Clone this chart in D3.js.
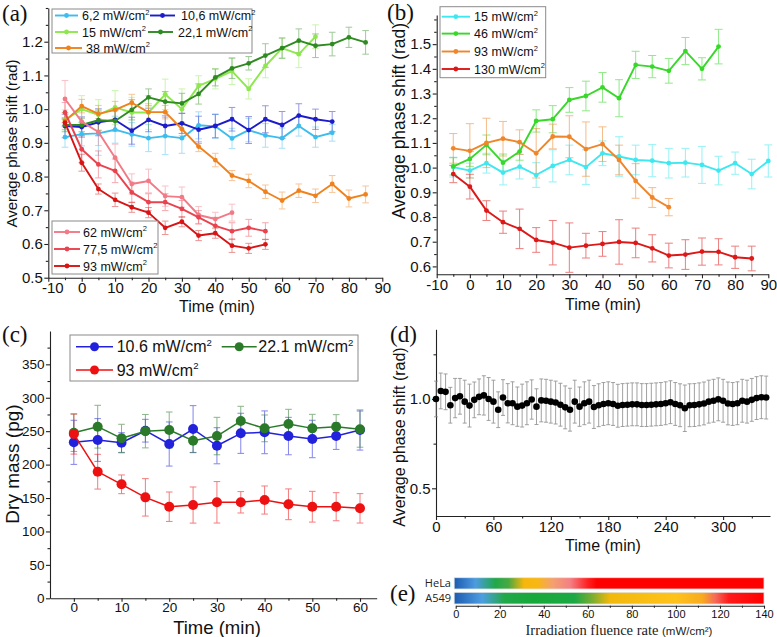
<!DOCTYPE html>
<html><head><meta charset="utf-8">
<script src="https://cdn.jsdelivr.net/npm/d3@7"></script>
<style>body{margin:0;background:#fff}svg{display:block}</style>
</head><body><svg id="c" width="777" height="637"></svg>
<script>
// ---------------- DATA ----------------
const tA = [-5,0,5,10,15,20,25,30,35,40,45,50,55,60,65,70,75,80,85];
const a6_2 = [0.917,0.926,0.928,0.939,0.925,0.914,0.92,0.914,0.952,0.949,0.913,0.938,0.922,0.914,0.95,0.917,0.93];
const a6_2e = [0.03,0.035,0.065,0.04,0.035,0.04,0.055,0.045,0.04,0.035,0.03,0.035,0.035,0.03,0.03,0.03,0.025];
const a10_6 = [0.95,0.947,0.961,0.968,0.936,0.968,0.95,0.958,0.939,0.95,0.97,0.938,0.97,0.953,0.981,0.97,0.963];
const a10_6e = [0.035,0.03,0.04,0.03,0.04,0.035,0.03,0.03,0.04,0.035,0.035,0.04,0.04,0.04,0.035,0.03,0.03];
const a15 = [0.968,1.0,0.983,1.005,0.99,0.99,1.044,1.0,1.069,1.09,1.113,1.06,1.128,1.181,1.163,1.215];
const a15e = [0.03,0.04,0.045,0.05,0.045,0.05,0.045,0.06,0.03,0.03,0.04,0.03,0.035,0.03,0.04,0.035];
const a22_1 = [0.953,0.953,0.967,0.965,0.998,1.035,1.022,1.017,1.045,1.094,1.121,1.136,1.159,1.181,1.203,1.188,1.193,1.213,1.198];
const a22_1e = [0.02,0.02,0.03,0.03,0.03,0.025,0.03,0.03,0.03,0.025,0.03,0.02,0.035,0.03,0.035,0.035,0.035,0.03,0.035];
const a38 = [0.965,1.009,0.986,0.998,1.019,0.991,0.991,0.941,0.889,0.849,0.803,0.787,0.755,0.729,0.758,0.743,0.778,0.735,0.747];
const a38e = [0.025,0.02,0.025,0.025,0.025,0.025,0.02,0.02,0.015,0.02,0.015,0.02,0.02,0.025,0.02,0.02,0.025,0.025,0.025];
const a62 = [1.03,0.963,0.932,0.856,0.778,0.787,0.742,0.739,0.686,0.674,0.693];
const a62e = [0.055,0.04,0.04,0.04,0.03,0.035,0.03,0.03,0.025,0.02,0.025];
const a77_5 = [0.99,0.881,0.836,0.817,0.753,0.724,0.724,0.704,0.679,0.654,0.638,0.648,0.638];
const a77_5e = [0.03,0.04,0.04,0.035,0.03,0.025,0.025,0.025,0.02,0.025,0.025,0.025,0.025];
const a93 = [0.96,0.841,0.763,0.731,0.709,0.693,0.648,0.666,0.625,0.632,0.595,0.587,0.599];
const a93e = [0.01,0.025,0.015,0.02,0.015,0.015,0.02,0.015,0.015,0.015,0.02,0.015,0.015];

const tB = [-5,0,5,10,15,20,25,30,35,40,45,50,55,60,65,70,75,80,85,90];
const b15 = [1.002,0.988,1.018,0.98,1.004,0.97,1.007,1.031,1.002,1.058,1.045,1.031,1.028,1.018,1.02,1.011,0.988,1.018,0.974,1.027];
const b15e = [0.04,0.03,0.04,0.05,0.05,0.05,0.065,0.06,0.07,0.05,0.08,0.06,0.065,0.06,0.058,0.075,0.058,0.045,0.06,0.065];
const b46 = [1.005,1.035,1.092,1.02,1.065,1.189,1.196,1.274,1.29,1.325,1.281,1.416,1.409,1.392,1.472,1.4,1.49];
const b46e = [0.035,0.03,0.04,0.035,0.035,0.045,0.055,0.05,0.06,0.06,0.075,0.055,0.045,0.05,0.055,0.045,0.07];
const b93 = [1.078,1.068,1.1,1.117,1.103,1.058,1.126,1.125,1.075,1.095,1.031,0.946,0.879,0.84];
const b93e = [0.06,0.11,0.1,0.07,0.05,0.1,0.05,0.085,0.11,0.07,0.06,0.07,0.04,0.035];
const b130 = [0.974,0.923,0.826,0.779,0.752,0.707,0.696,0.676,0.684,0.691,0.699,0.695,0.673,0.644,0.648,0.66,0.659,0.637,0.632];
const b130e = [0.035,0.05,0.04,0.045,0.08,0.05,0.09,0.1,0.05,0.05,0.09,0.06,0.055,0.05,0.06,0.055,0.053,0.045,0.05];

const tC = [0,5,10,15,20,25,30,35,40,45,50,55,60];
const c10_6 = [233.3,236.8,232.7,250.7,230.8,253.2,228.2,246.8,248.3,242.7,238.3,242.7,251.7];
const c10_6e = [33,32,15,17,33,35,27,30,32,28,28,20,30];
const c22_1 = [247.7,256.7,239.3,250,251.7,235.8,242.7,265.2,254.2,260.7,254.2,256.7,253];
const c22_1e = [28,32,21,25,27,18,28,22,20,22,21,18,27];
const c93 = [245.7,189.4,170.5,151,137,139.5,143.6,143.6,147,140.6,137,137,134.6];
const c93e = [30,26,14,28,22,27,31,16,21,23,23,21,22];

const tD = [0,5,10,15,20,25,30,35,40,45,50,55,60,65,70,75,80,85,90,95,100,105,110,115,120,125,130,135,140,145,150,155,160,165,170,175,180,185,190,195,200,205,210,215,220,225,230,235,240,245,250,255,260,265,270,275,280,285,290,295,300,305,310,315,320,325,330,335,340,345];
const dVals = [1.0,1.045,1.04,0.965,1.005,1.015,0.985,0.963,0.995,1.012,
  1.02,1.0,0.985,0.94,1.008,0.976,0.976,0.957,0.963,0.976,
  0.997,0.957,0.992,0.99,0.985,0.98,0.968,0.953,0.94,0.985,
  0.957,0.976,0.985,0.955,0.965,0.972,0.976,0.972,0.962,0.966,
  0.968,0.97,0.97,0.966,0.966,0.968,0.97,0.972,0.976,0.982,
  0.972,0.965,0.948,0.965,0.966,0.97,0.975,0.985,0.99,0.998,
  0.99,0.975,0.972,0.976,0.99,0.985,0.995,1.005,1.01,1.008];
const dErr = [0.1,0.1,0.1,0.1,0.11,0.1,0.12,0.12,0.1,0.1,
  0.11,0.12,0.12,0.1,0.1,0.11,0.12,0.11,0.12,0.12,
  0.11,0.1,0.12,0.12,0.12,0.12,0.12,0.12,0.12,0.12,
  0.11,0.12,0.12,0.12,0.12,0.12,0.12,0.12,0.12,0.12,
  0.12,0.12,0.12,0.12,0.12,0.12,0.12,0.12,0.12,0.12,
  0.12,0.12,0.13,0.12,0.12,0.12,0.12,0.12,0.12,0.12,
  0.12,0.12,0.12,0.12,0.12,0.12,0.12,0.12,0.12,0.12];

const eLabels = ["HeLa","A549"];
const eHeLaStops = [[0,"#1f5fb3"],[9,"#4d9be0"],[18,"#1fa84a"],[24,"#4aa842"],[31,"#f7b60a"],[37,"#f8b812"],[44,"#f4a070"],[52,"#f47f84"],[60,"#ff2020"],[64,"#ff0000"],[140,"#ff0000"]];
const eA549Stops = [[0,"#1f5fb3"],[12,"#4d9ee2"],[22,"#22a84a"],[35,"#17a83a"],[54,"#1ca844"],[62,"#7aad32"],[70,"#f2b80c"],[100,"#ffc21a"],[112,"#f8aa20"],[118,"#f46a5a"],[124,"#ff1a1a"],[140,"#ff0000"]];

// ---------------- DRAWING ----------------
const SANS = '"Liberation Sans", Arial, sans-serif';
const SERIF = '"Liberation Serif", "Times New Roman", serif';
const svg = d3.select("#c");
const zip = (t, v, e) => v.map((d, i) => ({t: t[i], v: d, e: e ? e[i] : 0}));
const plain = d => String(d);

function xAxis(scale, y, majors, minors, fs, fmt, tl = 4, ml = 2.5, pad = 1) {
  const g = svg.append("g").attr("transform", `translate(0,${y})`);
  g.call(d3.axisBottom(scale).tickValues(majors).tickSize(tl).tickSizeOuter(0).tickPadding(pad).tickFormat(fmt));
  if (minors) { const m = g.append("g").call(d3.axisBottom(scale).tickValues(minors).tickSize(ml).tickFormat("")); m.select(".domain").remove(); }
  g.attr("font-size", fs).attr("font-family", SANS);
  g.selectAll("line,path").attr("stroke", "#222").attr("stroke-width", 1.1);
  g.selectAll("text").attr("fill", "#111");
  return g;
}
function yAxis(scale, x, majors, minors, fs, fmt, tl = 4, ml = 2.5, pad = 1.5) {
  const g = svg.append("g").attr("transform", `translate(${x},0)`);
  g.call(d3.axisLeft(scale).tickValues(majors).tickSize(tl).tickSizeOuter(0).tickPadding(pad).tickFormat(fmt));
  if (minors) { const m = g.append("g").call(d3.axisLeft(scale).tickValues(minors).tickSize(ml).tickFormat("")); m.select(".domain").remove(); }
  g.attr("font-size", fs).attr("font-family", SANS);
  g.selectAll("line,path").attr("stroke", "#222").attr("stroke-width", 1.1);
  g.selectAll("text").attr("fill", "#111");
  return g;
}
function title(txt, x, y, fs, rot, family = SANS) {
  const t = svg.append("text").attr("font-family", family).attr("font-size", fs).attr("fill", "#111")
    .attr("text-anchor", "middle").text(txt);
  if (rot) t.attr("transform", `translate(${x},${y}) rotate(-90)`).attr("dominant-baseline", "central");
  else t.attr("x", x).attr("y", y);
  return t;
}
function errBars(data, x, y, color, cap, op, w = 1) {
  const g = svg.append("g").attr("stroke", color).attr("stroke-width", w).attr("opacity", op);
  data.forEach(d => {
    const xx = x(d.t), y1 = y(d.v + d.e), y2 = y(d.v - d.e);
    g.append("line").attr("x1", xx).attr("x2", xx).attr("y1", y1).attr("y2", y2);
    g.append("line").attr("x1", xx - cap).attr("x2", xx + cap).attr("y1", y1).attr("y2", y1);
    g.append("line").attr("x1", xx - cap).attr("x2", xx + cap).attr("y1", y2).attr("y2", y2);
  });
}
function series(data, x, y, color, lw, r) {
  svg.append("path").datum(data).attr("fill", "none").attr("stroke", color).attr("stroke-width", lw)
    .attr("stroke-linejoin", "round").attr("d", d3.line().x(d => x(d.t)).y(d => y(d.v)));
  svg.append("g").selectAll("circle").data(data).join("circle")
    .attr("cx", d => x(d.t)).attr("cy", d => y(d.v)).attr("r", r).attr("fill", color);
}
function legendItem(x1, x2, y, color, label, fs, lw, r, tx) {
  svg.append("line").attr("x1", x1).attr("x2", x2).attr("y1", y).attr("y2", y).attr("stroke", color).attr("stroke-width", lw);
  svg.append("circle").attr("cx", (x1 + x2) / 2).attr("cy", y).attr("r", r).attr("fill", color);
  const t = svg.append("text").attr("x", tx).attr("y", y).attr("dy", "0.36em").attr("font-family", SANS)
    .attr("font-size", fs).attr("fill", "#111").text(label + " mW/cm");
  t.append("tspan").attr("font-size", fs * 0.6).attr("dy", -fs * 0.42).text("2");
}
function legendBox(x, y, w, h) {
  svg.append("rect").attr("x", x).attr("y", y).attr("width", w).attr("height", h)
    .attr("fill", "#fff").attr("stroke", "#8a8a8a").attr("stroke-width", 1);
}
function panelLabel(txt, x, y) {
  svg.append("text").attr("x", x).attr("y", y).attr("font-family", SERIF).attr("font-size", 23).attr("fill", "#111").text(txt);
}
const steps = (a, b, s) => { const r = []; for (let v = a; v <= b + 1e-9; v += s) r.push(+v.toFixed(3)); return r; };

// ---------- Panel (a) ----------
{
  const x = d3.scaleLinear([-10, 90], [48.3, 382.3]);
  const y = d3.scaleLinear([0.5, 1.3], [277.7, 8]);
  const gx = xAxis(x, 277.7, steps(-10, 90, 10), steps(-5, 85, 10), 15, plain);
  gx.selectAll(".tick text").filter(d => d === -10).attr("dx", 4);
  yAxis(y, 48.3, steps(0.5, 1.2, 0.1), steps(0.55, 1.3, 0.1).concat([1.3]), 15, d3.format(".1f"));
  const S = [
    [a6_2, a6_2e, "#3dbdee"], [a10_6, a10_6e, "#1c1ccc"], [a15, a15e, "#8ce84c"], [a22_1, a22_1e, "#2f8a22"],
    [a38, a38e, "#f0821e"], [a62, a62e, "#f27a86"], [a77_5, a77_5e, "#e8434f"], [a93, a93e, "#d81414"]
  ];
  S.forEach(s => errBars(zip(tA, s[0], s[1]), x, y, s[2], 3.3, 0.45));
  S.forEach(s => series(zip(tA, s[0]), x, y, s[2], 1.9, 2.4));
  legendBox(52, 9, 200, 44);
  legendItem(55, 78, 15.5, "#3dbdee", "6,2", 12.5, 1.9, 2.4, 82);
  legendItem(150, 175, 15.5, "#1c1ccc", "10,6", 12.5, 1.9, 2.4, 181);
  legendItem(55, 78, 32, "#8ce84c", "15", 12.5, 1.9, 2.4, 82);
  legendItem(148, 173, 32, "#2f8a22", "22,1", 12.5, 1.9, 2.4, 178);
  legendItem(55, 82, 48, "#f0821e", "38", 12.5, 1.9, 2.4, 86);
  legendBox(52, 221, 106, 53);
  legendItem(54, 80, 232, "#f27a86", "62", 12.5, 1.9, 2.4, 83);
  legendItem(54, 80, 249, "#e8434f", "77,5", 12.5, 1.9, 2.4, 83);
  legendItem(54, 80, 266, "#d81414", "93", 12.5, 1.9, 2.4, 83);
  title("Time (min)", 217, 312, 16);
  title("Average phase shift (rad)", 11, 143.5, 15, true);
  panelLabel("(a)", 2, 21);
}
// ---------- Panel (b) ----------
{
  const x = d3.scaleLinear([-10, 90], [436.7, 768.3]);
  const y = d3.scaleLinear([0.568, 1.618], [274.3, 15]);
  xAxis(x, 274.3, steps(-10, 90, 10), steps(-5, 85, 10), 15, plain);
  yAxis(y, 436.7, steps(0.6, 1.5, 0.1), steps(0.65, 1.55, 0.1).concat([1.6]), 15, d3.format(".1f"));
  const S = [
    [b15, b15e, "#3ee8f0"], [b46, b46e, "#38d82a"], [b93, b93e, "#f0862a"], [b130, b130e, "#dd1818"]
  ];
  S.forEach(s => errBars(zip(tB, s[0], s[1]), x, y, s[2], 4, 0.55));
  S.forEach(s => series(zip(tB, s[0]), x, y, s[2], 1.9, 2.4));
  legendBox(440, 6.7, 105.7, 71);
  legendItem(441.7, 470, 16.7, "#3ee8f0", "15", 12.5, 1.9, 2.4, 474);
  legendItem(441.7, 470, 33.6, "#38d82a", "46", 12.5, 1.9, 2.4, 474);
  legendItem(441.7, 470, 51.5, "#f0862a", "93", 12.5, 1.9, 2.4, 474);
  legendItem(441.7, 470, 69, "#dd1818", "130", 12.5, 1.9, 2.4, 474);
  title("Time (min)", 603, 310, 16);
  title("Average phase shift (rad)", 399, 121, 17.5, true);
  panelLabel("(b)", 387, 20);
}
// ---------- Panel (c) ----------
{
  const x = d3.scaleLinear([-5, 63.5], [50, 376.7]);
  const y = d3.scaleLinear([0, 400], [598.3, 330.9]);
  xAxis(x, 598.3, steps(0, 60, 10), steps(5, 55, 10), 13.5, plain, 3.5, 2.5, 1);
  yAxis(y, 50, steps(0, 350, 50), steps(25, 375, 50), 13.5, plain);
  const S = [[c10_6, c10_6e, "#2222dd"], [c22_1, c22_1e, "#2a7a2a"], [c93, c93e, "#ee1111"]];
  S.forEach(s => errBars(zip(tC, s[0], s[1]), x, y, s[2], 3.3, 0.55));
  S.forEach(s => series(zip(tC, s[0]), x, y, s[2], 1.5, 5));
  legendBox(70, 335, 288, 46);
  legendItem(76, 113, 346.7, "#2222dd", "10.6", 16, 1.5, 4.5, 116.7);
  legendItem(221.7, 256.7, 346.7, "#2a7a2a", "22.1", 16, 1.5, 4.5, 258.3);
  legendItem(76, 113, 370, "#ee1111", "93", 16, 1.5, 4.5, 116.7);
  title("Time (min)", 217, 634, 18.5);
  title("Dry mass (pg)", 12, 464, 19, true);
  panelLabel("(c)", 2, 342);
}
// ---------- Panel (d) ----------
{
  const x = d3.scaleLinear([0, 349], [436, 770]);
  const y = d3.scaleLinear([0.345, 1.39], [516, 329.3]);
  xAxis(x, 516, steps(0, 300, 60), steps(30, 330, 60), 15, plain);
  yAxis(y, 436, [0.5, 1.0], [0.75, 1.25], 15, d3.format(".1f"));
  const data = zip(tD, dVals, dErr);
  errBars(data, x, y, "#8c8c8c", 2, 0.9, 0.9);
  svg.append("g").selectAll("circle").data(data).join("circle")
    .attr("cx", d => x(d.t)).attr("cy", d => y(d.v)).attr("r", 3.3).attr("fill", "#000");
  title("Time (min)", 603, 551, 16);
  title("Average phase shift (rad)", 399, 437, 16, true);
  panelLabel("(d)", 390, 342);
}
// ---------- Panel (e) ----------
{
  const x = d3.scaleLinear([0, 140], [455.7, 764]);
  const defs = svg.append("defs");
  const bars = [[eHeLaStops, 577.7, 11.3], [eA549Stops, 592.3, 11.7]];
  bars.forEach((b, i) => {
    const gid = "grad" + i;
    const gr = defs.append("linearGradient").attr("id", gid).attr("gradientUnits", "userSpaceOnUse")
      .attr("x1", x(0)).attr("x2", x(140)).attr("y1", 0).attr("y2", 0);
    b[0].forEach(s => gr.append("stop").attr("offset", (x(s[0]) - x(0)) / (x(140) - x(0))).attr("stop-color", s[1]));
    svg.append("rect").attr("x", x(-0.7)).attr("y", b[1]).attr("width", x(140) - x(-0.7)).attr("height", b[2])
      .attr("fill", `url(#${gid})`).attr("stroke", "#e4e4e4").attr("stroke-width", 0.8);
    svg.append("text").attr("x", 451).attr("y", b[1] + b[2] / 2).attr("dy", "0.36em").attr("text-anchor", "end")
      .attr("font-family", '"Open Sans", "Liberation Sans", sans-serif').attr("font-size", 11).attr("fill", "#222").text(eLabels[i]);
  });
  xAxis(x, 605.7, steps(0, 140, 20), steps(10, 130, 20), 11, plain, 3, 2, 2);
  const t = svg.append("text").attr("x", 619).attr("y", 635).attr("text-anchor", "middle").attr("fill", "#222");
  t.append("tspan").attr("font-family", SERIF).attr("font-size", 14.5).text("Irradiation fluence rate ");
  t.append("tspan").attr("font-family", SANS).attr("font-size", 11.5).text("(mW/cm²)");
  panelLabel("(e)", 390, 601);
}
</script></body></html>
